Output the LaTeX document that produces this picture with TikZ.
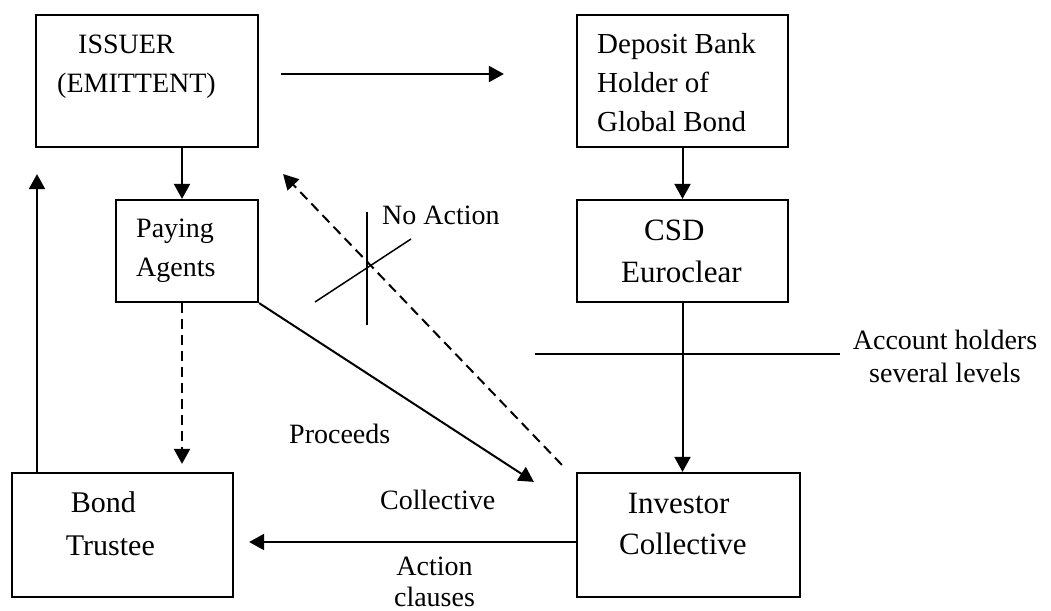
\documentclass[tikz,border=0pt]{standalone}
\usepackage{fontspec}
\setmainfont{Liberation Serif}
\usetikzlibrary{arrows.meta}
\definecolor{Ink}{HTML}{000000}
\definecolor{PageBg}{HTML}{FFFFFF}
\tikzset{
  flow box/.style={draw=Ink,line width=2.2pt,inner sep=0pt},
  box text/.style={anchor=base west,inner sep=0pt,text=Ink,font=\fontsize{28}{28}\selectfont},
  mid text/.style={box text,font=\fontsize{29}{29}\selectfont},
  wide text/.style={box text,font=\fontsize{30}{30}\selectfont},
  big text/.style={box text,font=\fontsize{31}{31}\selectfont},
  note text/.style={anchor=base,inner sep=0pt,align=center,text=Ink},
  flow arrow/.style={draw=Ink,line width=2pt,-{Triangle[length=15pt,width=16pt]}},
  dash arrow/.style={flow arrow,dash pattern=on 10pt off 6pt},
  thin line/.style={draw=Ink,line width=1.5pt}
}

\begin{document}
\begin{tikzpicture}[x=1pt,y=-1pt,line cap=butt,line join=miter]
  \fill[PageBg] (0,0) rectangle (1051,610);
  \useasboundingbox (0,0) rectangle (1051,610);

  % top row
  \node[flow box,minimum width=222pt,minimum height=132pt] (issuer) at (147,81) {};
  \node[box text] (issuer-a) at (78,53) {ISSUER};
  \node[box text] (issuer-b) at (57,92) {(EMITTENT)};

  \node[flow box,minimum width=211pt,minimum height=132pt] (deposit) at (682.5,81) {};
  \node[mid text] (deposit-a) at (597,53) {Deposit Bank};
  \node[mid text] (deposit-b) at (597,92) {Holder of};
  \node[mid text] (deposit-c) at (597,131) {Global Bond};

  % middle row
  \node[flow box,minimum width=142pt,minimum height=102pt] (paying) at (187,251) {};
  \node[box text] (paying-a) at (136,237) {Paying};
  \node[box text] (paying-b) at (136,276) {Agents};

  \node[flow box,minimum width=211pt,minimum height=102pt] (csd) at (682.5,251) {};
  \node[big text] (csd-a) at (644,240) {CSD};
  \node[big text] (csd-b) at (621,282) {Euroclear};

  % bottom row
  \node[flow box,minimum width=221pt,minimum height=124pt] (trustee) at (122.5,535) {};
  \node[wide text] (trustee-a) at (70.7,512) {Bond};
  \node[wide text] (trustee-b) at (65.7,555) {Trustee};

  \node[flow box,minimum width=223pt,minimum height=124pt] (investor) at (688.5,535) {};
  \node[big text] (investor-a) at (627.7,513) {Investor};
  \node[big text] (investor-b) at (619,554) {Collective};

  % labels
  \node[box text] (noaction) at (382,224) {No Action};
  \node[box text] (proceeds) at (289,443) {Proceeds};
  \node[box text] (collective) at (380,509) {Collective};
  \node[note text,font=\fontsize{28}{31}\selectfont] (clauses) at (434.5,606) {Action\\clauses};
  \node[note text,font=\fontsize{28}{33}\selectfont] (holders) at (945,382) {Account holders\\several levels};

  % connectors
  \draw[flow arrow] ([xshift=22pt,yshift=7pt]issuer.east) -- ([xshift=-72pt,yshift=7pt]deposit.west);
  \draw[flow arrow] ([xshift=35pt]issuer.south) -- ([xshift=-5pt]paying.north);
  \draw[flow arrow] (deposit.south) -- (csd.north);
  \draw[flow arrow] (csd.south) -- (csd.south |- investor.north);
  \draw[flow arrow] ([xshift=-85.5pt]trustee.north) -- ([xshift=-110pt,yshift=-26pt]issuer.south);
  \draw[dash arrow] ([xshift=-5pt]paying.south) -- ([xshift=59.5pt,yshift=8pt]trustee.north);
  \draw[flow arrow] (paying.south east) -- ([xshift=-42pt,yshift=-10pt]investor.north west);
  \draw[dash arrow] ([xshift=-14pt,yshift=7pt]investor.north west) -- ([xshift=24pt,yshift=-26pt]issuer.south east);
  \draw[flow arrow] ([yshift=-7pt]investor.west) -- ([xshift=15pt,yshift=-7pt]trustee.east);

  % cross and level line
  \draw[thin line] (367,212) -- (367,325);
  \draw[thin line] (315,302) -- (411,239);
  \draw[draw=Ink,line width=1.8pt] (535,354) -- (840,354);
\end{tikzpicture}
\end{document}
